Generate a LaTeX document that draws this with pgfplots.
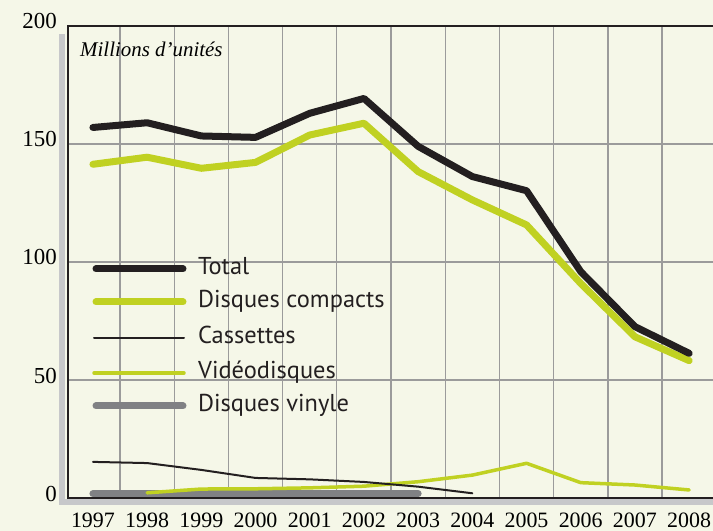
\documentclass[border=0pt]{standalone}
\usepackage{fontspec}
\setmainfont{Liberation Serif}
\newfontfamily\legfont{PT Sans}
\usepackage{pgfplots}
\pgfplotsset{compat=1.18}
\definecolor{bgcol}{RGB}{245,247,232}
\definecolor{blk}{RGB}{35,31,32}
\definecolor{lime}{RGB}{192,209,34}
\definecolor{vinyl}{RGB}{128,129,132}
\definecolor{gridcol}{RGB}{155,155,155}
\definecolor{stripcol}{RGB}{199,200,202}

\begin{document}
\begin{tikzpicture}[x=1bp,y=1bp]
\fill[bgcol] (-68,-33) rectangle (645,498);
\path[use as bounding box] (-68,-33) rectangle (645,498);
% grey strips
\fill[stripcol] (-9,-7) rectangle (-3,464);
\fill[stripcol] (-9,-7) rectangle (645,-1);
\begin{axis}[
  at={(0,0)}, anchor=south west,
  scale only axis, width=645bp, height=472bp,
  xmin=1996.54, xmax=2008.44, ymin=0, ymax=200,
  axis line style={draw=none},
  xtick={1997,...,2008},
  minor xtick={1997.5,1998.5,...,2007.5},
  xminorgrids,
  ytick={0,50,...,200},
  ymajorgrids,
  grid style={gridcol, line width=1.3bp},
  minor grid style={gridcol, line width=1.3bp},
  major tick length=0pt, minor tick length=0pt,
  /pgf/number format/assume math mode=true,
  xticklabel style={anchor=base, inner sep=0pt, yshift=-30bp,
    font=\fontsize{22}{22}\selectfont, /pgf/number format/1000 sep={}},
  yticklabel style={anchor=east, inner sep=0pt, xshift=-11bp, yshift=4.5bp,
    font=\fontsize{23}{23}\selectfont},
  clip=false,
  line cap=round, line join=round,
]
% Disques vinyle
\addplot[vinyl, line width=7bp] coordinates {
  (1997,1.8) (1998,1.8) (1999,1.8) (2000,1.8) (2001,1.8) (2002,1.8) (2003,1.8)
};
% Videodisques
\addplot[lime, line width=3.5bp] coordinates {
  (1998,2.2) (1999,3.8) (2000,3.9) (2001,4.3) (2002,5.0) (2003,6.9)
  (2004,9.7) (2005,14.7) (2006,6.5) (2007,5.5) (2008,3.4)
};
% Cassettes
\addplot[blk, line width=2bp] coordinates {
  (1997,15.3) (1998,14.8) (1999,11.9) (2000,8.5) (2001,7.9) (2002,6.8)
  (2003,4.8) (2004,2.0)
};
% Disques compacts
\addplot[lime, line width=7bp] coordinates {
  (1997,141.4) (1998,144.4) (1999,139.7) (2000,142.2) (2001,153.8) (2002,158.8)
  (2003,138.3) (2004,126.3) (2005,115.7) (2006,90.9) (2007,68.3) (2008,58.2)
};
% Total
\addplot[blk, line width=7bp] coordinates {
  (1997,157) (1998,159) (1999,153.4) (2000,152.8) (2001,163) (2002,169.3)
  (2003,149) (2004,136.2) (2005,130.2) (2006,95.9) (2007,72.6) (2008,61.3)
};
\end{axis}
% frame lines
\draw[blk, line width=2.5bp] (645,472) -- (0,472) -- (0,0) -- (645,0);
\node[anchor=base west, inner sep=0pt, font=\itshape\fontsize{21}{21}\selectfont]
  at (12,441) {Millions d'unités};
% legend
\begin{scope}[line cap=round]
\draw[blk, line width=7bp] (28,229) -- (115,229);
\draw[lime, line width=7bp] (28,196) -- (115,196);
\draw[blk, line width=2bp] (26,160) -- (116,160);
\draw[lime, line width=3.5bp] (26,125) -- (116,125);
\draw[vinyl, line width=7bp] (28,92) -- (115,92);
\end{scope}
\begin{scope}[every node/.style={anchor=mid west, inner sep=0pt, yshift=-3bp,
    font=\legfont\fontsize{24.5}{24.5}\selectfont, text=blk}]
\node at (130,229) {Total};
\node at (130,196) {Disques compacts};
\node at (130,160) {Cassettes};
\node at (130,125) {Vidéodisques};
\node at (130,92) {Disques vinyle};
\end{scope}
\end{tikzpicture}
\end{document}
